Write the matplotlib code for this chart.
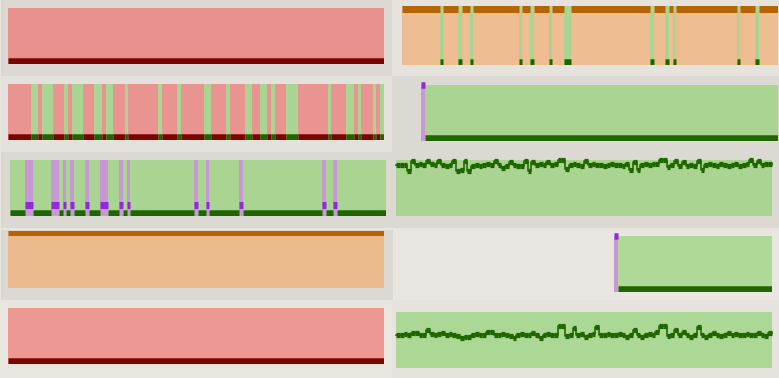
import matplotlib
matplotlib.use('Agg')
import matplotlib.pyplot as plt
from matplotlib.patches import Rectangle

W, H = 779, 378
N_STEPS = 100

# ---------------- data ----------------
# state runs (start step, end step) on a 0..100 time axis
L1_runs = [(0, 100, 'crit')]
R1_ok_runs = [(10, 11), (15, 16), (18, 19), (31, 32), (34, 35), (39, 40), (43, 45),
              (66, 67), (70, 71), (72, 73), (89, 90), (94, 95)]
L2_ok_runs = [(6, 8), (9, 12), (15, 16), (17, 20), (23, 25), (26, 28), (31, 32), (40, 41),
              (45, 46), (52, 54), (58, 59), (63, 65), (67, 69), (70, 71), (74, 77), (85, 86),
              (90, 92), (93, 94), (97, 98), (99, 100)]
R2_runs = [(5, 6, 'down'), (6, 100, 'ok')]
L3_down_runs = [(4, 6), (11, 13), (14, 15), (16, 17), (20, 21), (24, 26), (29, 30), (31, 32),
                (49, 50), (52, 53), (61, 62), (83, 84), (86, 87)]
L4_runs = [(0, 100, 'warn')]
R4_runs = [(58, 59, 'down'), (59, 100, 'ok')]
L5_runs = [(0, 100, 'crit')]

R3_values = [91, 91, 91, 81, 99, 91, 92, 91, 99, 92,
             91, 98, 91, 90, 91, 98, 81, 82, 98, 81,
             90, 91, 89, 91, 92, 91, 98, 91, 85, 89,
             97, 91, 89, 90, 98, 81, 97, 91, 92, 91,
             97, 91, 92, 100, 100, 84, 91, 92, 91, 90,
             99, 91, 92, 91, 91, 90, 91, 92, 91, 91,
             90, 92, 83, 96, 83, 91, 92, 91, 92, 92,
             100, 100, 87, 91, 99, 90, 97, 89, 91, 90,
             98, 83, 91, 92, 91, 90, 92, 91, 90, 91,
             92, 90, 91, 92, 100, 91, 98, 91, 93, 93]
R5_values = [59, 59, 60, 59, 62, 62, 59, 59, 67, 61,
             59, 60, 62, 59, 60, 59, 58, 53, 56, 56,
             59, 60, 59, 59, 64, 64, 59, 59, 60, 59,
             58, 53, 59, 60, 59, 59, 63, 59, 53, 59,
             60, 59, 59, 75, 75, 58, 59, 72, 59, 60,
             55, 59, 60, 73, 59, 59, 60, 59, 59, 60,
             59, 55, 59, 68, 59, 56, 59, 60, 59, 64,
             75, 75, 57, 59, 68, 59, 64, 59, 55, 59,
             73, 59, 55, 59, 63, 59, 58, 59, 63, 59,
             60, 59, 59, 60, 59, 59, 62, 59, 58, 62]

# ---------------- styles ----------------
FILL = {'crit': '#e8908b', 'warn': '#efbd92', 'ok': '#a9d492', 'down': '#c798d4'}
LINE = {'crit': '#790500', 'warn': '#b56400', 'ok': '#1f6500', 'down': '#9428dd'}
FIG_BG = '#e8e5e0'


def with_base(runs, state, base):
    """Complete a list of (start, end) runs of `state` with `base` in the gaps."""
    out, t = [], 0
    for s, e in sorted(runs):
        if s > t:
            out.append((t, s, base))
        out.append((s, e, state))
        t = e
    if t < N_STEPS:
        out.append((t, N_STEPS, base))
    return out


fig = plt.figure(figsize=(W / 100, H / 100), dpi=100, facecolor=FIG_BG)


def px_rect(x0, y0, x1, y1):
    return [x0 / W, 1 - y1 / H, (x1 - x0) / W, (y1 - y0) / H]


def panel_bg(x0, y0, x1, y1, color):
    l, b, w, h = px_rect(x0, y0, x1, y1)
    fig.add_artist(Rectangle((l, b), w, h, transform=fig.transFigure,
                             facecolor=color, edgecolor='none', zorder=0))


def make_ax(x0, y0, x1, y1):
    ax = fig.add_axes(px_rect(x0, y0, x1, y1))
    ax.set_xlim(0, N_STEPS)
    ax.set_ylim(0, 1)
    ax.axis('off')
    ax.patch.set_alpha(0)
    return ax


def status_panel(box, runs, lines, fills=None):
    ax = make_ax(*box)
    fills = dict(FILL, **(fills or {}))
    for s, e, st in runs:
        ax.axvspan(s, e, color=fills[st], lw=0, zorder=1)
    for s, e, st in runs:
        level, width_px, clip = lines[st]
        lc = ax.hlines(level, s, e, colors=LINE[st], linewidth=width_px * 0.72,
                       zorder=3, clip_on=clip)
        lc.set_capstyle('butt')
    return ax


def value_panel(box, values, fill):
    ax = make_ax(*box)
    ax.set_ylim(0, 100)
    ax.axvspan(0, N_STEPS, color=fill, lw=0, zorder=1)
    xs = list(range(len(values)))
    ax.step(xs + [len(values)], values + [values[-1]], where='post',
            color=LINE['ok'], lw=1.6 * 0.72, zorder=3, clip_on=False)
    lc = ax.hlines(values, xs, [x + 1 for x in xs],
                   colors=LINE['ok'], linewidth=5.2 * 0.72, zorder=4, clip_on=False)
    lc.set_capstyle('butt')
    return ax


# panel backgrounds
panel_bg(1, 0, 392, 76, '#dcd8d2')
panel_bg(392, 0, 779, 76, '#e6e2dd')
panel_bg(1, 76, 392, 152, '#e4e0db')
panel_bg(392, 76, 779, 152, '#dcd8d2')
panel_bg(1, 152, 392, 228, '#dcd8d2')
panel_bg(392, 152, 779, 228, '#dcd8d2')
panel_bg(1, 230, 393, 300, '#dcd8d2')
panel_bg(393, 230, 779, 300, '#e9e6e1')
panel_bg(1, 300, 392, 378, '#e9e6e0')
panel_bg(392, 300, 779, 378, '#e6e2dd')

BOTTOM = (0, 12.5, True)

status_panel((8, 8, 384, 64), L1_runs, {'crit': BOTTOM})
status_panel((402, 6, 778, 65), with_base(R1_ok_runs, 'ok', 'warn'),
             {'warn': (1, 13, True), 'ok': BOTTOM})
status_panel((8, 84, 384, 140), with_base(L2_ok_runs, 'ok', 'crit'),
             {'crit': BOTTOM, 'ok': BOTTOM}, fills={'crit': '#e99490'})
status_panel((402, 85, 778, 141), R2_runs,
             {'down': (1, 6.5, False), 'ok': BOTTOM})
status_panel((10, 160, 386, 216), with_base(L3_down_runs, 'down', 'ok'),
             {'ok': BOTTOM, 'down': (0.2, 7, True)})
value_panel((396, 160, 772, 216), R3_values, FILL['ok'])
status_panel((8, 231, 384, 288), L4_runs, {'warn': (1, 9, True)},
             fills={'warn': '#ecbb8d'})
status_panel((396, 236, 772, 292), R4_runs,
             {'down': (1, 6.5, False), 'ok': BOTTOM}, fills={'ok': '#aed997'})
status_panel((8, 308, 384, 364), L5_runs, {'crit': BOTTOM},
             fills={'crit': '#ed9893'})
value_panel((396, 312, 772, 368), R5_values, '#acd896')

fig.savefig('out.png', dpi=100, facecolor=FIG_BG)
